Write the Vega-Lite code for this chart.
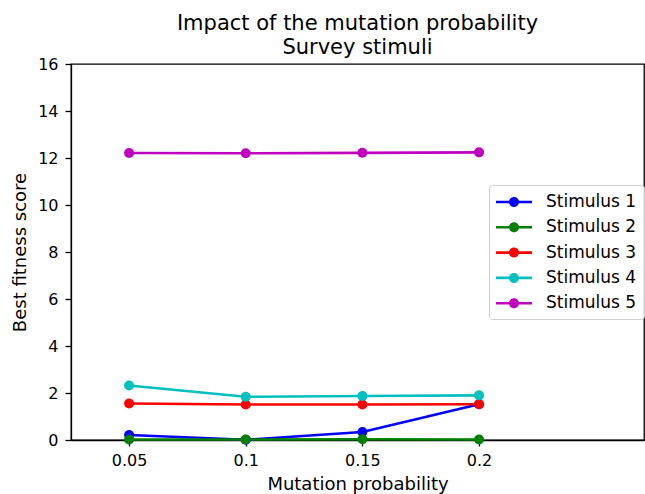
{
  "$schema": "https://vega.github.io/schema/vega-lite/v6.json",
  "width": 573,
  "height": 376,
  "autosize": {"type": "none"},
  "padding": {"left": 71, "top": 64, "right": 1, "bottom": 54},
  "title": {
    "text": ["Impact of the mutation probability", "Survey stimuli"],
    "font": "DejaVu Sans",
    "fontSize": 21,
    "fontWeight": "normal",
    "color": "black",
    "lineHeight": 24,
    "anchor": "middle",
    "offset": -2
  },
  "config": {
    "font": "DejaVu Sans",
    "view": {"stroke": "black", "strokeWidth": 1.3},
    "axis": {
      "grid": false,
      "domainColor": "black",
      "domainWidth": 1.3,
      "tickColor": "black",
      "tickWidth": 1.3,
      "tickSize": 6,
      "labelFont": "DejaVu Sans",
      "labelFontSize": 16,
      "labelColor": "black",
      "titleFont": "DejaVu Sans",
      "titleFontSize": 18,
      "titleFontWeight": "normal",
      "titleColor": "black"
    },
    "legend": {
      "title": null,
      "orient": "none",
      "legendX": 418,
      "legendY": 121,
      "labelFont": "DejaVu Sans",
      "labelFontSize": 17,
      "labelColor": "black",
      "fillColor": "rgba(255,255,255,0.8)",
      "strokeColor": "#cccccc",
      "cornerRadius": 3,
      "padding": 7,
      "rowPadding": 7.3,
      "symbolSize": 400,
      "symbolStrokeWidth": 0,
      "symbolType": "M-1,-0.13H2.6V0.13H-1Z M1.3,0A0.5,0.5,0,1,1,0.3,0A0.5,0.5,0,1,1,1.3,0Z",
      "labelOffset": 30
    }
  },
  "data": {
    "values": [
      {"p": 0.05, "series": "Stimulus 1", "score": 0.21},
      {"p": 0.1, "series": "Stimulus 1", "score": 0.01},
      {"p": 0.15, "series": "Stimulus 1", "score": 0.34},
      {"p": 0.2, "series": "Stimulus 1", "score": 1.52},
      {"p": 0.05, "series": "Stimulus 2", "score": 0.02},
      {"p": 0.1, "series": "Stimulus 2", "score": 0.02},
      {"p": 0.15, "series": "Stimulus 2", "score": 0.03},
      {"p": 0.2, "series": "Stimulus 2", "score": 0.02},
      {"p": 0.05, "series": "Stimulus 3", "score": 1.55},
      {"p": 0.1, "series": "Stimulus 3", "score": 1.51},
      {"p": 0.15, "series": "Stimulus 3", "score": 1.51},
      {"p": 0.2, "series": "Stimulus 3", "score": 1.52},
      {"p": 0.05, "series": "Stimulus 4", "score": 2.32},
      {"p": 0.1, "series": "Stimulus 4", "score": 1.84},
      {"p": 0.15, "series": "Stimulus 4", "score": 1.87},
      {"p": 0.2, "series": "Stimulus 4", "score": 1.9},
      {"p": 0.05, "series": "Stimulus 5", "score": 12.21},
      {"p": 0.1, "series": "Stimulus 5", "score": 12.2},
      {"p": 0.15, "series": "Stimulus 5", "score": 12.22},
      {"p": 0.2, "series": "Stimulus 5", "score": 12.24}
    ]
  },
  "encoding": {
    "x": {
      "field": "p",
      "type": "quantitative",
      "scale": {"domain": [0.0251, 0.2707], "nice": false, "zero": false},
      "axis": {
        "values": [0.05, 0.1, 0.15, 0.2],
        "format": ".2~f",
        "labelPadding": 6,
        "title": "Mutation probability",
        "titlePadding": 7,
        "labelFlush": false
      }
    },
    "y": {
      "field": "score",
      "type": "quantitative",
      "scale": {"domain": [0, 16], "nice": false},
      "axis": {
        "values": [0, 2, 4, 6, 8, 10, 12, 14, 16],
        "labelPadding": 7,
        "title": "Best fitness score",
        "titlePadding": 8,
        "labelFlush": false
      }
    },
    "color": {
      "field": "series",
      "type": "nominal",
      "scale": {
        "domain": ["Stimulus 1", "Stimulus 2", "Stimulus 3", "Stimulus 4", "Stimulus 5"],
        "range": ["#0000ff", "#008000", "#ff0000", "#00bfbf", "#bf00bf"]
      }
    }
  },
  "layer": [
    {
      "mark": {"type": "line", "strokeWidth": 2.6, "clip": false},
      "encoding": {"detail": {"field": "series"}}
    },
    {
      "mark": {"type": "point", "filled": true, "size": 100, "opacity": 1, "clip": false}
    }
  ]
}
